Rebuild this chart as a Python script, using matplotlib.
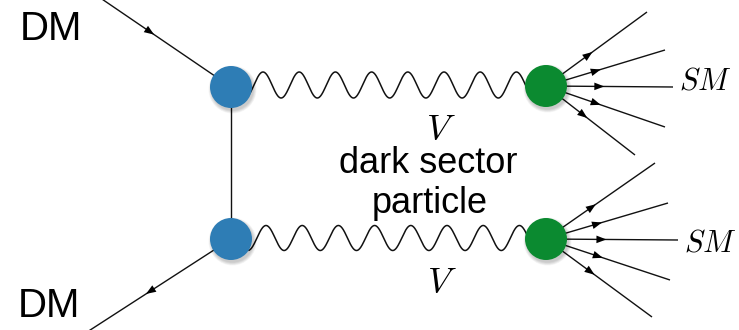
import numpy as np
import matplotlib
matplotlib.use("Agg")
import matplotlib.pyplot as plt
from matplotlib.patches import Circle, Polygon

plt.rcParams["mathtext.fontset"] = "cm"

# Vertex positions (canvas pixels, y grows downward)
dm_vertices = [(231, 87), (231, 239)]
sm_vertices = [(546, 86), (546, 239)]
vertex_radius = 21

# Incoming / outgoing dark-matter legs: (start, end, arrow fraction)
dm_legs = [((96, -5), (231, 87), 0.40),
           ((231, 239), (84, 334), 0.55)]

# Standard-model fan lines from each green blob
sm_fan_ends = [
    [(647, 12), (665, 50), (673, 87), (665, 127), (635, 155)],
    [(655, 163), (668, 203), (678, 240), (670, 280), (652, 317)],
]

# Wavy mediator lines: (x start, x end, centre y, amplitude, wavelength, phase x)
waves = [(249, 528, 85, 13, 36.2, 263),
         (249, 528, 238, 12.5, 36.2, 266)]

labels_dm = ["DM", "DM"]
label_mediator = "$V$"
label_sm = "$SM$"
label_sector = ["dark sector", "particle"]

blue = "#2e7db5"
green = "#0b8a30"

fig = plt.figure(figsize=(7.39, 3.30), dpi=100)
ax = fig.add_axes([0, 0, 1, 1])
ax.set_xlim(0, 739)
ax.set_ylim(330, 0)
ax.axis("off")


def arrow_head(ax, p0, p1, frac, size=10.0, width=3.8):
    p0 = np.asarray(p0, float)
    p1 = np.asarray(p1, float)
    d = p1 - p0
    d /= np.hypot(*d)
    n = np.array([-d[1], d[0]])
    tip = p0 + frac * (p1 - p0) + d * size * 0.5
    base = tip - d * size
    tri = [tip, base + n * width, base - n * width]
    ax.add_patch(Polygon(tri, closed=True, color="black", lw=0, zorder=3))


line_kw = dict(color="#111111", lw=1.0, solid_capstyle="butt", zorder=2)

# DM legs
for (p0, p1, frac) in dm_legs:
    ax.plot([p0[0], p1[0]], [p0[1], p1[1]], **line_kw)
    arrow_head(ax, p0, p1, frac)

# t-channel propagator
ax.plot([dm_vertices[0][0], dm_vertices[1][0]],
        [dm_vertices[0][1], dm_vertices[1][1]], **line_kw)

# mediator waves
for (xa, xb, yc, amp, lam, xph) in waves:
    xs = np.linspace(xa, xb, 800)
    ys = yc - amp * np.cos(2 * np.pi * (xs - xph) / lam)
    ax.plot(xs, ys, color="#111111", lw=1.1, zorder=2)

# SM fans
for centre, ends in zip(sm_vertices, sm_fan_ends):
    for end in ends:
        ax.plot([centre[0], end[0]], [centre[1], end[1]], **line_kw)
        arrow_head(ax, centre, end, 0.42)

# blobs with soft drop shadow
for centres, col in ((dm_vertices, blue), (sm_vertices, green)):
    for (cx, cy) in centres:
        for k in range(6):
            ax.add_patch(Circle((cx + 1.5, cy + 2.5), vertex_radius + 3 - k * 0.6,
                                color="black", alpha=0.035, lw=0, zorder=4))
        ax.add_patch(Circle((cx, cy), vertex_radius, color=col, lw=0, zorder=5))

# labels
sans = ["Liberation Sans", "DejaVu Sans"]
ax.text(20, 40, labels_dm[0], fontsize=29, family=sans, ha="left", va="baseline")
ax.text(18, 317, labels_dm[1], fontsize=29, family=sans, ha="left", va="baseline")
ax.text(428, 173, label_sector[0], fontsize=26, family=sans, ha="center", va="baseline")
ax.text(430, 213, label_sector[1], fontsize=26, family=sans, ha="center", va="baseline")
ax.text(441, 140, label_mediator, fontsize=26, ha="center", va="baseline")
ax.text(442, 293, label_mediator, fontsize=26, ha="center", va="baseline")
ax.text(679, 90, label_sm, fontsize=22, ha="left", va="baseline")
ax.text(684, 251, label_sm, fontsize=22, ha="left", va="baseline")

fig.savefig("out.png", dpi=100)
